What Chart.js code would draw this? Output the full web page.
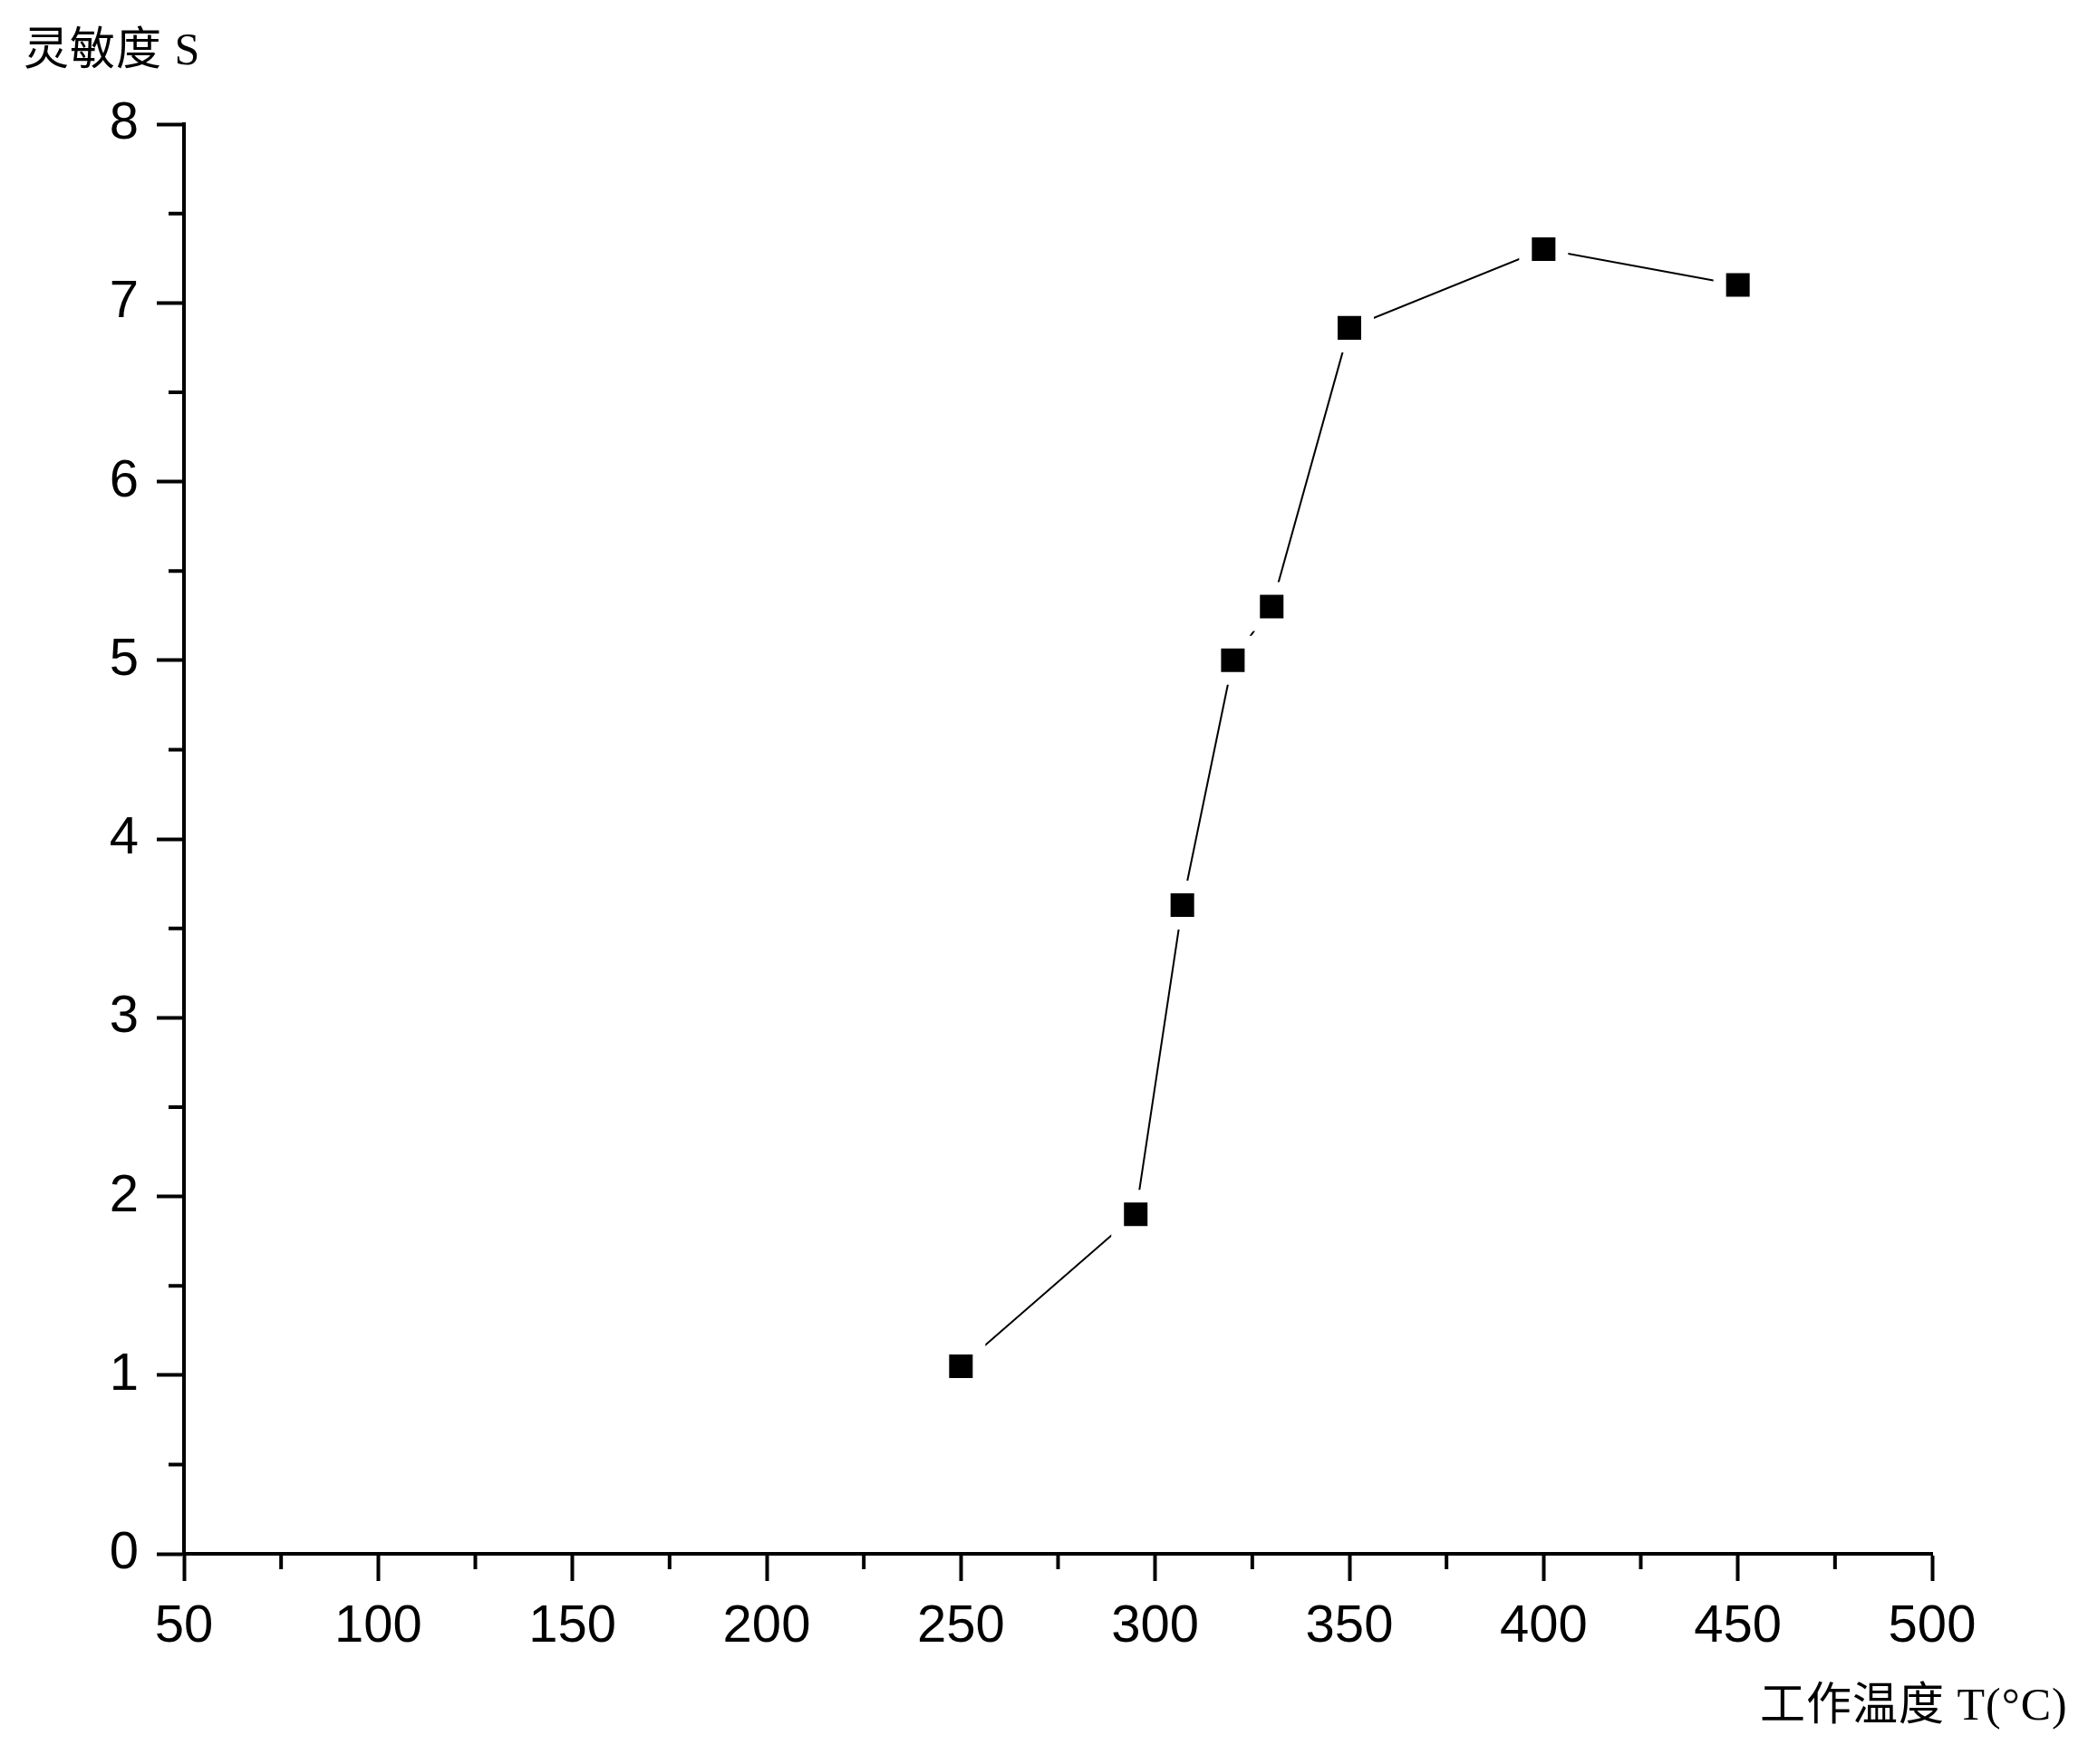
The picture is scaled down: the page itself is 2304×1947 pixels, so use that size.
<!DOCTYPE html>
<html>
<head>
<meta charset="utf-8">
<script src="https://cdn.jsdelivr.net/npm/chart.js@4/dist/chart.umd.min.js"></script>
<style>
    html, body { margin: 0; padding: 0; background: #fff; }
    #wrap { position: relative; width: 2304px; height: 1947px; }
    #chart { position: absolute; left: 0; top: 0; }
    .axis-title {
        position: absolute;
        font-family: 'Liberation Serif', 'Noto Sans CJK SC', serif;
        font-size: 50px;
        line-height: 50px;
        color: #000;
        white-space: nowrap;
    }
</style>
</head>
<body>
<div id="wrap">
    <canvas id="chart" width="2304" height="1947"></canvas>
    <div class="axis-title" style="left:26px; top:29px; letter-spacing:1px;">灵敏度 S</div>
    <div class="axis-title" style="left:1942px; top:1856px; letter-spacing:1px;">工作温度 T(°C)</div>
</div>
<script>
    // Data
    const temperatures = [250, 295, 307, 320, 330, 350, 400, 450];
    const sensitivity = [1.05, 1.9, 3.63, 5.0, 5.3, 6.86, 7.3, 7.1];

    // Tick labels
    const xTicks = [50, 100, 150, 200, 250, 300, 350, 400, 450, 500];
    const yTicks = [0, 1, 2, 3, 4, 5, 6, 7, 8];

    /**
     * Minor ticks halfway between the major ones (Origin style)
     */
    const minorTicks = {
        id: 'minorTicks',
        afterDraw: function(chart) {
            const ctx = chart.ctx;
            const area = chart.chartArea;
            const x = chart.scales.x;
            const y = chart.scales.y;

            ctx.save();
            ctx.strokeStyle = '#000';
            ctx.lineWidth = 4;
            ctx.beginPath();
            for (let i = 0; i < xTicks.length - 1; i++) {
                const px = x.getPixelForValue((xTicks[i] + xTicks[i + 1]) / 2);
                ctx.moveTo(px, area.bottom);
                ctx.lineTo(px, area.bottom + 17);
            }
            for (let i = 0; i < yTicks.length - 1; i++) {
                const py = y.getPixelForValue((yTicks[i] + yTicks[i + 1]) / 2);
                ctx.moveTo(area.left, py);
                ctx.lineTo(area.left - 17, py);
            }
            ctx.stroke();
            ctx.restore();
        }
    };

    const tickFont = { family: "'Liberation Sans', Arial, sans-serif", size: 58 };

    new Chart(document.getElementById('chart'), {
        type: 'line',
        data: {
            datasets: [{
                data: temperatures.map((t, i) => ({ x: t, y: sensitivity[i] })),
                borderColor: '#000',
                borderWidth: 2,
                tension: 0,
                fill: false,
                pointStyle: 'rect',
                pointRadius: 28.3,
                pointBackgroundColor: '#000',
                // white rim leaves the small gap between line and marker
                pointBorderColor: '#fff',
                pointBorderWidth: 14
            }]
        },
        options: {
            responsive: false,
            animation: false,
            devicePixelRatio: 1,
            events: [],
            layout: {
                padding: { top: 137, right: 172, bottom: 0, left: 0 }
            },
            plugins: {
                legend: { display: false },
                tooltip: { enabled: false }
            },
            scales: {
                x: {
                    type: 'linear',
                    min: 50,
                    max: 500,
                    afterBuildTicks: function(scale) {
                        scale.ticks = xTicks.map(v => ({ value: v }));
                    },
                    afterFit: function(scale) {
                        scale.height = 232;
                    },
                    ticks: {
                        font: tickFont,
                        color: '#000',
                        padding: 16,
                        maxRotation: 0,
                        autoSkip: false
                    },
                    grid: {
                        display: true,
                        drawOnChartArea: false,
                        drawTicks: true,
                        tickLength: 30,
                        tickWidth: 4,
                        tickColor: '#000'
                    },
                    border: { display: true, width: 4, color: '#000' }
                },
                y: {
                    type: 'linear',
                    min: 0,
                    max: 8,
                    afterBuildTicks: function(scale) {
                        scale.ticks = yTicks.map(v => ({ value: v }));
                    },
                    afterFit: function(scale) {
                        scale.width = 203;
                    },
                    ticks: {
                        font: tickFont,
                        color: '#000',
                        padding: 20,
                        autoSkip: false
                    },
                    grid: {
                        display: true,
                        drawOnChartArea: false,
                        drawTicks: true,
                        tickLength: 30,
                        tickWidth: 4,
                        tickColor: '#000'
                    },
                    border: { display: true, width: 4, color: '#000' }
                }
            }
        },
        plugins: [minorTicks]
    });
</script>
</body>
</html>
